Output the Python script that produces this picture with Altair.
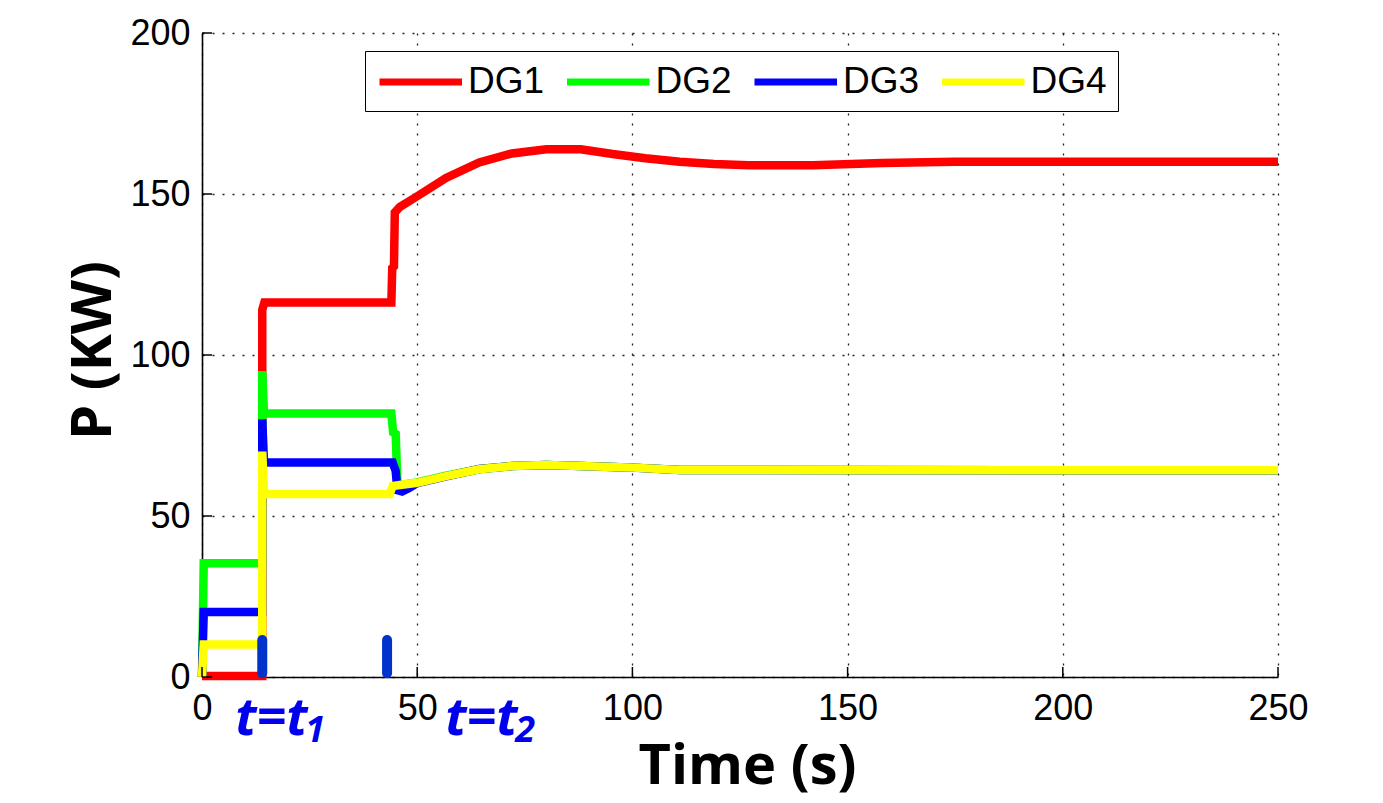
import altair as alt
import pandas as pd

series_names = ["DG1", "DG2", "DG3", "DG4"]
series_colors = ["#FF0000", "#00FF00", "#0000FF", "#FFFF00"]

# DG1 (red)
t_dg1 = [0, 14.0, 14.0, 14.5, 44.0, 44.2, 44.6, 44.8, 46, 50, 56.7, 64.4, 72, 80, 88, 95.4, 103, 111, 119, 127, 142, 158, 175, 250]
p_dg1 = [0.3, 0.3, 114, 116.3, 116.3, 127, 127.5, 144.3, 146, 149.3, 155, 159.8, 162.6, 163.9, 163.9, 162.4, 161.1, 160, 159.3, 158.9, 158.9, 159.6, 160, 160]
# DG2 (green)
t_dg2 = [0, 0.4, 14.0, 14.0, 14.4, 44.0, 44.4, 45.0, 45.4, 46, 48, 50, 56.7, 64.4, 72, 80, 88, 99, 111, 250]
p_dg2 = [0, 35.3, 35.3, 95, 81.8, 81.8, 76, 75.5, 60, 59.6, 60, 60.4, 62.5, 64.5, 65.5, 65.8, 65.5, 65.1, 64.3, 64.2]
# DG3 (blue)
t_dg3 = [0, 0.4, 14.0, 14.0, 14.4, 44.3, 45.0, 45.4, 46.5, 48, 50, 56.7, 64.4, 72, 80, 88, 99, 111, 250]
p_dg3 = [0, 20.2, 20.2, 80, 66.6, 66.6, 64, 58, 57.6, 58.6, 60.2, 62.3, 64.6, 65.5, 65.8, 65.5, 65.1, 64.3, 64.2]
# DG4 (yellow)
t_dg4 = [0, 0.4, 14.0, 14.0, 14.4, 43.6, 44.3, 46, 50, 56.7, 64.4, 72, 80, 88, 99, 111, 250]
p_dg4 = [0, 10.1, 10.1, 70, 56.8, 56.8, 59.3, 59.6, 60.3, 62.4, 64.5, 65.5, 65.8, 65.5, 65.1, 64.3, 64.2]

x_ticks = [0, 50, 100, 150, 200, 250]
y_ticks = [0, 50, 100, 150, 200]

# event markers (t1, t2)
marker_t = [14.0, 43.0]
marker_lo = [1.2, 1.2]
marker_hi = [11.5, 11.5]

# annotations
ann_x = [7.7, 56.5]
ann_text = ["t=t", "t=t"]
sub_x = [24.0, 72.8]
sub_text = ["1", "2"]

rows = []
for name, ts, ps in zip(series_names, [t_dg1, t_dg2, t_dg3, t_dg4], [p_dg1, p_dg2, p_dg3, p_dg4]):
    for i, (t, p) in enumerate(zip(ts, ps)):
        rows.append({"series": name, "t": t, "P": p, "i": i})
df = pd.DataFrame(rows)

x_scale = alt.Scale(domain=[0, 250], nice=False, zero=False)
y_scale = alt.Scale(domain=[0, 200], nice=False, zero=False)

common = dict(grid=True, gridDash=[2, 8], gridColor="#222222", gridWidth=1.3, gridOpacity=1,
              domainColor="black", domainWidth=1.6, ticks=False, labelColor="black",
              labelFont="Liberation Sans", labelFontSize=36, labelFlush=False, labelOverlap=False,
              titleFont="Open Sans", titleFontSize=56, titleFontWeight="bold", titleColor="black")

x_axis = alt.Axis(values=x_ticks, labelPadding=14, title="Time (s)",
                  titleX=545, titleY=106, titleBaseline="alphabetic", titleAlign="center", **common)
y_axis = alt.Axis(values=y_ticks, labelPadding=12, title="P (KW)",
                  titleX=-92, titleY=317, titleAngle=270, titleBaseline="alphabetic",
                  titleAlign="center", **common)

lines = alt.Chart(df).mark_line(strokeWidth=8.5, strokeJoin="miter").encode(
    x=alt.X("t:Q", scale=x_scale, axis=x_axis),
    y=alt.Y("P:Q", scale=y_scale, axis=y_axis),
    color=alt.Color("series:N", scale=alt.Scale(domain=series_names, range=series_colors),
                    legend=alt.Legend(title=None, orient="none", legendX=163, legendY=18,
                                      direction="horizontal", columns=4,
                                      symbolType="M-1,0H4", symbolSize=1089,
                                      symbolStrokeWidth=7, symbolOpacity=1,
                                      labelFont="Liberation Sans", labelFontSize=37, labelColor="black",
                                      labelOffset=52, columnPadding=7.5, padding=11,
                                      strokeColor="black", fillColor="white")),
    order="i:Q",
)

xt_df = pd.DataFrame({"t": x_ticks})
xticks = alt.Chart(xt_df).mark_rule(color="black", strokeWidth=1.5, y2Offset=-10).encode(
    x=alt.X("t:Q", scale=x_scale, axis=x_axis),
    y=alt.YDatum(0, scale=y_scale, axis=y_axis),
    y2=alt.Y2Datum(0),
)
yt_df = pd.DataFrame({"v": y_ticks})
yticks = alt.Chart(yt_df).mark_rule(color="black", strokeWidth=1.5, x2Offset=10).encode(
    y=alt.Y("v:Q", scale=y_scale, axis=y_axis),
    x=alt.XDatum(0, scale=x_scale, axis=x_axis),
    x2=alt.X2Datum(0),
)

mk_df = pd.DataFrame({"t": marker_t, "lo": marker_lo, "hi": marker_hi})
markers = alt.Chart(mk_df).mark_rule(strokeWidth=10, strokeCap="round", color="#0033CC").encode(
    x=alt.X("t:Q", scale=x_scale, axis=x_axis),
    y=alt.Y("lo:Q", scale=y_scale, axis=y_axis),
    y2="hi:Q",
)

ann_df = pd.DataFrame({"x": ann_x, "txt": ann_text})
ann = alt.Chart(ann_df).mark_text(align="left", baseline="alphabetic", dy=58, font="Open Sans",
                                  fontSize=52, fontStyle="italic", fontWeight="bold", color="#0000EE").encode(
    x=alt.X("x:Q", scale=x_scale, axis=x_axis),
    y=alt.YDatum(0, scale=y_scale, axis=y_axis),
    text="txt:N",
)
sub_df = pd.DataFrame({"x": sub_x, "txt": sub_text})
sub = alt.Chart(sub_df).mark_text(align="left", baseline="alphabetic", dy=65, font="Open Sans",
                                  fontSize=36, fontStyle="italic", fontWeight="bold", color="#0000EE").encode(
    x=alt.X("x:Q", scale=x_scale, axis=x_axis),
    y=alt.YDatum(0, scale=y_scale, axis=y_axis),
    text="txt:N",
)

chart = alt.layer(lines, xticks, yticks, markers, ann, sub).properties(
    width=1076, height=644,
    autosize=alt.AutoSizeParams(type="none"),
    padding={"left": 202, "top": 33, "right": 105, "bottom": 126},
    background="white",
).configure_view(strokeWidth=0)

chart.save("out.html", embed_options={"renderer": "svg", "actions": False})
